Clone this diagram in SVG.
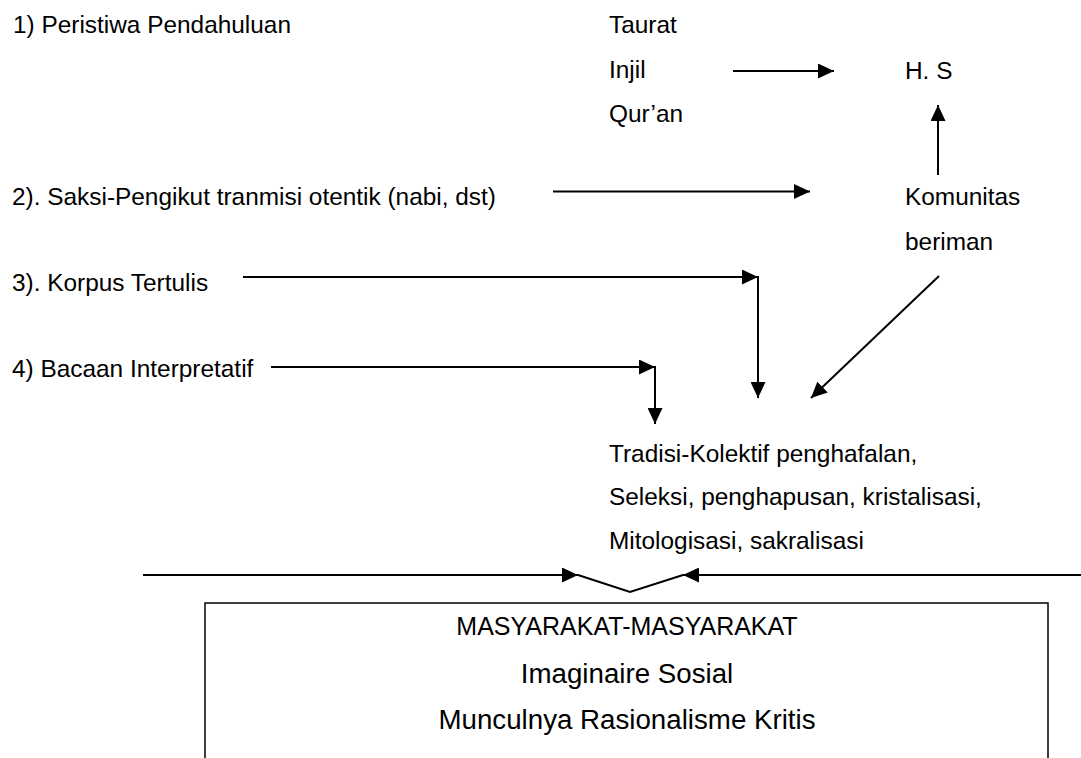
<svg xmlns="http://www.w3.org/2000/svg" width="1081" height="758" viewBox="0 0 1081 758">
<style>
text{font-family:"Liberation Sans",Arial,sans-serif;fill:#000}
.t{font-size:24.4px}
.m{font-size:25px}
.b{font-size:27.7px}
.ln{stroke:#000;stroke-width:2;fill:none}
</style>
<defs>
<marker id="ah" markerUnits="userSpaceOnUse" markerWidth="16" markerHeight="15" refX="16" refY="7.5" orient="auto">
<path d="M0,0 L16,7.5 L0,15 z" fill="#000"/>
</marker>
</defs>
<rect width="1081" height="758" fill="#fff"/>
<g id="n1"><text class="t" x="13" y="33">1) Peristiwa Pendahuluan</text></g>
<g id="kitab"><text class="t" x="609" y="33">Taurat</text><text class="t" x="609" y="78">Injil</text><text class="t" x="609" y="122">Qur’an</text></g>
<g id="hs"><text class="t" x="905" y="79">H. S</text></g>
<g id="n2"><text class="t" x="12" y="205">2). Saksi-Pengikut tranmisi otentik (nabi, dst)</text></g>
<g id="komunitas"><text class="t" x="905" y="205">Komunitas</text><text class="t" x="905" y="250">beriman</text></g>
<g id="n3"><text class="t" x="12" y="291">3). Korpus Tertulis</text></g>
<g id="n4"><text class="t" x="12" y="377">4) Bacaan Interpretatif</text></g>
<g id="tradisi"><text class="t" x="609" y="462">Tradisi-Kolektif penghafalan,</text><text class="t" x="609" y="505">Seleksi, penghapusan, kristalisasi,</text><text class="t" x="609" y="549">Mitologisasi, sakralisasi</text></g>
<g id="masyarakat">
<rect x="205" y="603" width="843" height="170" fill="none" stroke="#000" stroke-width="1.5"/>
<g text-anchor="middle">
<text class="m" x="627" y="635">MASYARAKAT-MASYARAKAT</text>
<text class="b" x="627" y="683">Imaginaire Sosial</text>
<text class="b" x="627" y="729">Munculnya Rasionalisme Kritis</text>
</g>
</g>
<g id="connectors" class="ln">
<line class="ln" x1="733" y1="71" x2="834" y2="71" marker-end="url(#ah)"/>
<line class="ln" x1="938" y1="175" x2="938" y2="105" marker-end="url(#ah)"/>
<line class="ln" x1="553" y1="191.5" x2="810" y2="191.5" marker-end="url(#ah)"/>
<line class="ln" x1="243" y1="277" x2="758" y2="277" marker-end="url(#ah)"/>
<line class="ln" x1="758" y1="276" x2="758" y2="398" marker-end="url(#ah)"/>
<line class="ln" x1="271" y1="367" x2="655" y2="367" marker-end="url(#ah)"/>
<line class="ln" x1="655" y1="366" x2="655" y2="424" marker-end="url(#ah)"/>
<line class="ln" x1="939" y1="276" x2="811" y2="398" marker-end="url(#ah)"/>
<line class="ln" x1="143" y1="575" x2="578" y2="575" marker-end="url(#ah)"/>
<line class="ln" x1="1081" y1="575" x2="683" y2="575" marker-end="url(#ah)"/>
<polyline class="ln" points="578,575 630,592 683,575"/>
</g>
</svg>
